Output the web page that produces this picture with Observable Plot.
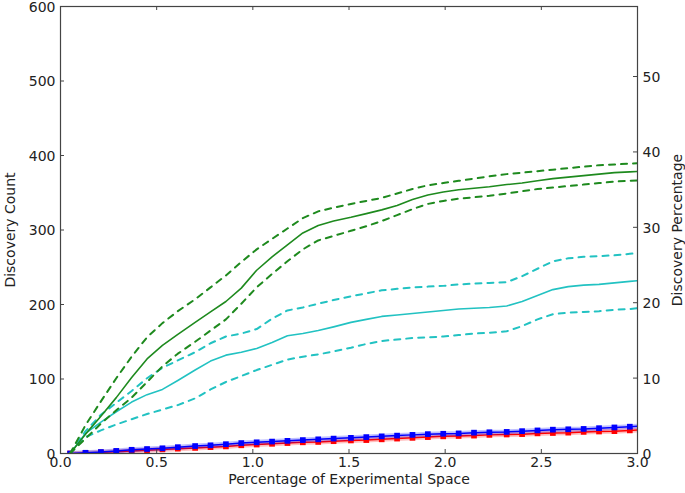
<!DOCTYPE html>
<html>
<head>
<meta charset="utf-8">
<script src="https://cdn.jsdelivr.net/npm/d3@7"></script>
<script src="https://cdn.jsdelivr.net/npm/@observablehq/plot@0.6"></script>
<style>
  html, body { margin: 0; padding: 0; background: #fff; }
  #chart svg { display: block; }
</style>
</head>
<body>
<div id="chart"></div>
<script>
// x grid: percentage of experimental space
const xs = [0.05,0.13,0.21,0.29,0.37,0.45,0.53,0.61,0.70,0.78,0.86,0.94,1.02,1.10,1.18,1.26,1.34,1.42,1.51,1.59,1.67,1.75,1.83,1.91,1.99,2.07,2.15,2.23,2.32,2.40,2.48,2.56,2.64,2.72,2.80,2.88,2.96,3.04];

const greenMean  = [0,26,50,75,102,127,145,160,176,190,204,222,246,264,280,296,306,312,317,322,327,333,341,347,351,354,356,358,361,363,366,369,371,373,375,377,378,379];
const greenUpper = [0,38,70,101,130,156,175,191,207,223,239,257,274,288,302,316,325,330,335,339,343,349,355,360,363,366,369,372,375,377,379,381,383,385,387,388,389,390];
const greenLower = [0,20,40,58,75,96,117,134,150,165,180,201,223,241,258,274,286,292,299,305,312,320,328,335,339,342,344,346,349,352,355,357,359,361,363,365,366,367];

const cyanMean  = [0,27,42,56,69,79,86,98,112,124,132,136,141,149,158,161,165,170,176,180,184,186,188,190,192,194,195,196,198,204,212,220,224,226,227,229,231,233];
const cyanUpper = [0,30,52,68,84,101,115,125,136,148,157,161,167,181,192,196,201,206,211,215,219,221,223,224,225,227,228,229,230,238,248,258,262,264,265,266,268,270];
const cyanLower = [0,22,31,39,46,53,59,65,74,86,96,104,112,119,126,130,133,137,142,147,151,153,155,156,157,159,161,162,164,171,180,187,189,190,191,193,194,196];

const blueSeries = [0,1,2,3.5,5,6,7,8.5,10,11,12.5,14,15,16,17,18,19,20,21,22,23,24,25,26,26.5,27,28,28.5,29,30,31,32,32.5,33,34,35,36,37];
const redSeries  = [0,0.5,1.5,2.5,3.5,4.5,5.5,6.5,7.5,8.5,9.5,11,12,13,14,15,15.5,16.5,17.5,18,19,20,21,22,23,23.5,24,25,25.5,26,27,27.5,28,29,29.5,30,31,32];

const xTicks = [0.0,0.5,1.0,1.5,2.0,2.5,3.0];
const yTicks = [0,100,200,300,400,500,600];
const pctTicks = [0,10,20,30,40,50];
const countsPerPercent = 10.12;

const toRows = (vals) => xs.map((x, i) => ({x, y: vals[i]}));

const W = 685, H = 493;
const mL = 60, mR = 48, mT = 6, mB = 40;
const innerW = W - mL - mR, innerH = H - mT - mB;
const tickLen = 4;
const font = "DejaVu Sans, sans-serif";

const green = "#1e8a1e";
const cyan = "#22c2c2";
const blue = "#0000ff";
const red = "#ff0000";

const pctTickCounts = pctTicks.map(p => p * countsPerPercent);

const chart = Plot.plot({
  width: W,
  height: H,
  marginLeft: mL,
  marginRight: mR,
  marginTop: mT,
  marginBottom: mB,
  style: {fontFamily: font, fontSize: "14px", color: "#222", background: "#fff", overflow: "visible"},
  x: {domain: [0, 3], label: null},
  y: {domain: [0, 600], label: null},
  marks: [
    // red & blue with faint bands and square markers
    Plot.line(toRows(redSeries), {x: "x", y: "y", stroke: red, strokeWidth: 5, strokeOpacity: 0.25, clip: true}),
    Plot.line(toRows(redSeries), {x: "x", y: "y", stroke: red, strokeWidth: 1.5, clip: true}),
    Plot.dot(toRows(redSeries), {x: "x", y: "y", symbol: "square", r: 3.2, fill: red, stroke: "none", clip: true}),
    Plot.line(toRows(blueSeries), {x: "x", y: "y", stroke: blue, strokeWidth: 5, strokeOpacity: 0.25, clip: true}),
    Plot.line(toRows(blueSeries), {x: "x", y: "y", stroke: blue, strokeWidth: 1.5, clip: true}),
    Plot.dot(toRows(blueSeries), {x: "x", y: "y", symbol: "square", r: 3.2, fill: blue, stroke: "none", clip: true}),
    // cyan
    Plot.line(toRows(cyanUpper), {x: "x", y: "y", stroke: cyan, strokeWidth: 2, strokeDasharray: "6,6", clip: true}),
    Plot.line(toRows(cyanLower), {x: "x", y: "y", stroke: cyan, strokeWidth: 2, strokeDasharray: "6,6", clip: true}),
    Plot.line(toRows(cyanMean), {x: "x", y: "y", stroke: cyan, strokeWidth: 1.6, clip: true}),
    // green
    Plot.line(toRows(greenUpper), {x: "x", y: "y", stroke: green, strokeWidth: 2, strokeDasharray: "6,6", clip: true}),
    Plot.line(toRows(greenLower), {x: "x", y: "y", stroke: green, strokeWidth: 2, strokeDasharray: "6,6", clip: true}),
    Plot.line(toRows(greenMean), {x: "x", y: "y", stroke: green, strokeWidth: 1.6, clip: true}),
    // inward ticks
    Plot.tickX(xTicks, {x: d => d, stroke: "#444", insetTop: innerH - tickLen}),
    Plot.tickX(xTicks, {x: d => d, stroke: "#444", insetBottom: innerH - tickLen}),
    Plot.tickY(yTicks, {y: d => d, stroke: "#444", insetRight: innerW - tickLen}),
    Plot.tickY(pctTickCounts, {y: d => d, stroke: "#444", insetLeft: innerW - tickLen}),
    // frame
    Plot.frame({stroke: "#444", strokeWidth: 1.2}),
    // axis labels
    Plot.axisX(xTicks, {tickSize: 0, tickPadding: 4, tickFormat: d3.format(".1f"), label: null, fontSize: 14, fill: "#222"}),
    Plot.axisY(yTicks, {anchor: "left", tickSize: 0, tickPadding: 5, tickFormat: d => String(d), label: null, fontSize: 14, fill: "#222", dy: 1}),
    Plot.axisY(pctTickCounts, {anchor: "right", tickSize: 0, tickPadding: 5, tickFormat: d => String(Math.round(d / countsPerPercent)), label: null, fontSize: 14, fill: "#222", dy: 1}),
    Plot.text(["Percentage of Experimental Space"], {frameAnchor: "bottom", dy: 30, fontSize: 14, fill: "#222", textAnchor: "middle"}),
    Plot.text(["Discovery Count"], {frameAnchor: "left", dx: -50, rotate: -90, fontSize: 14, fill: "#222", textAnchor: "middle"}),
    Plot.text(["Discovery Percentage"], {frameAnchor: "right", dx: 40, rotate: -90, fontSize: 14, fill: "#222", textAnchor: "middle"})
  ]
});

document.getElementById("chart").appendChild(chart);
</script>
</body>
</html>
